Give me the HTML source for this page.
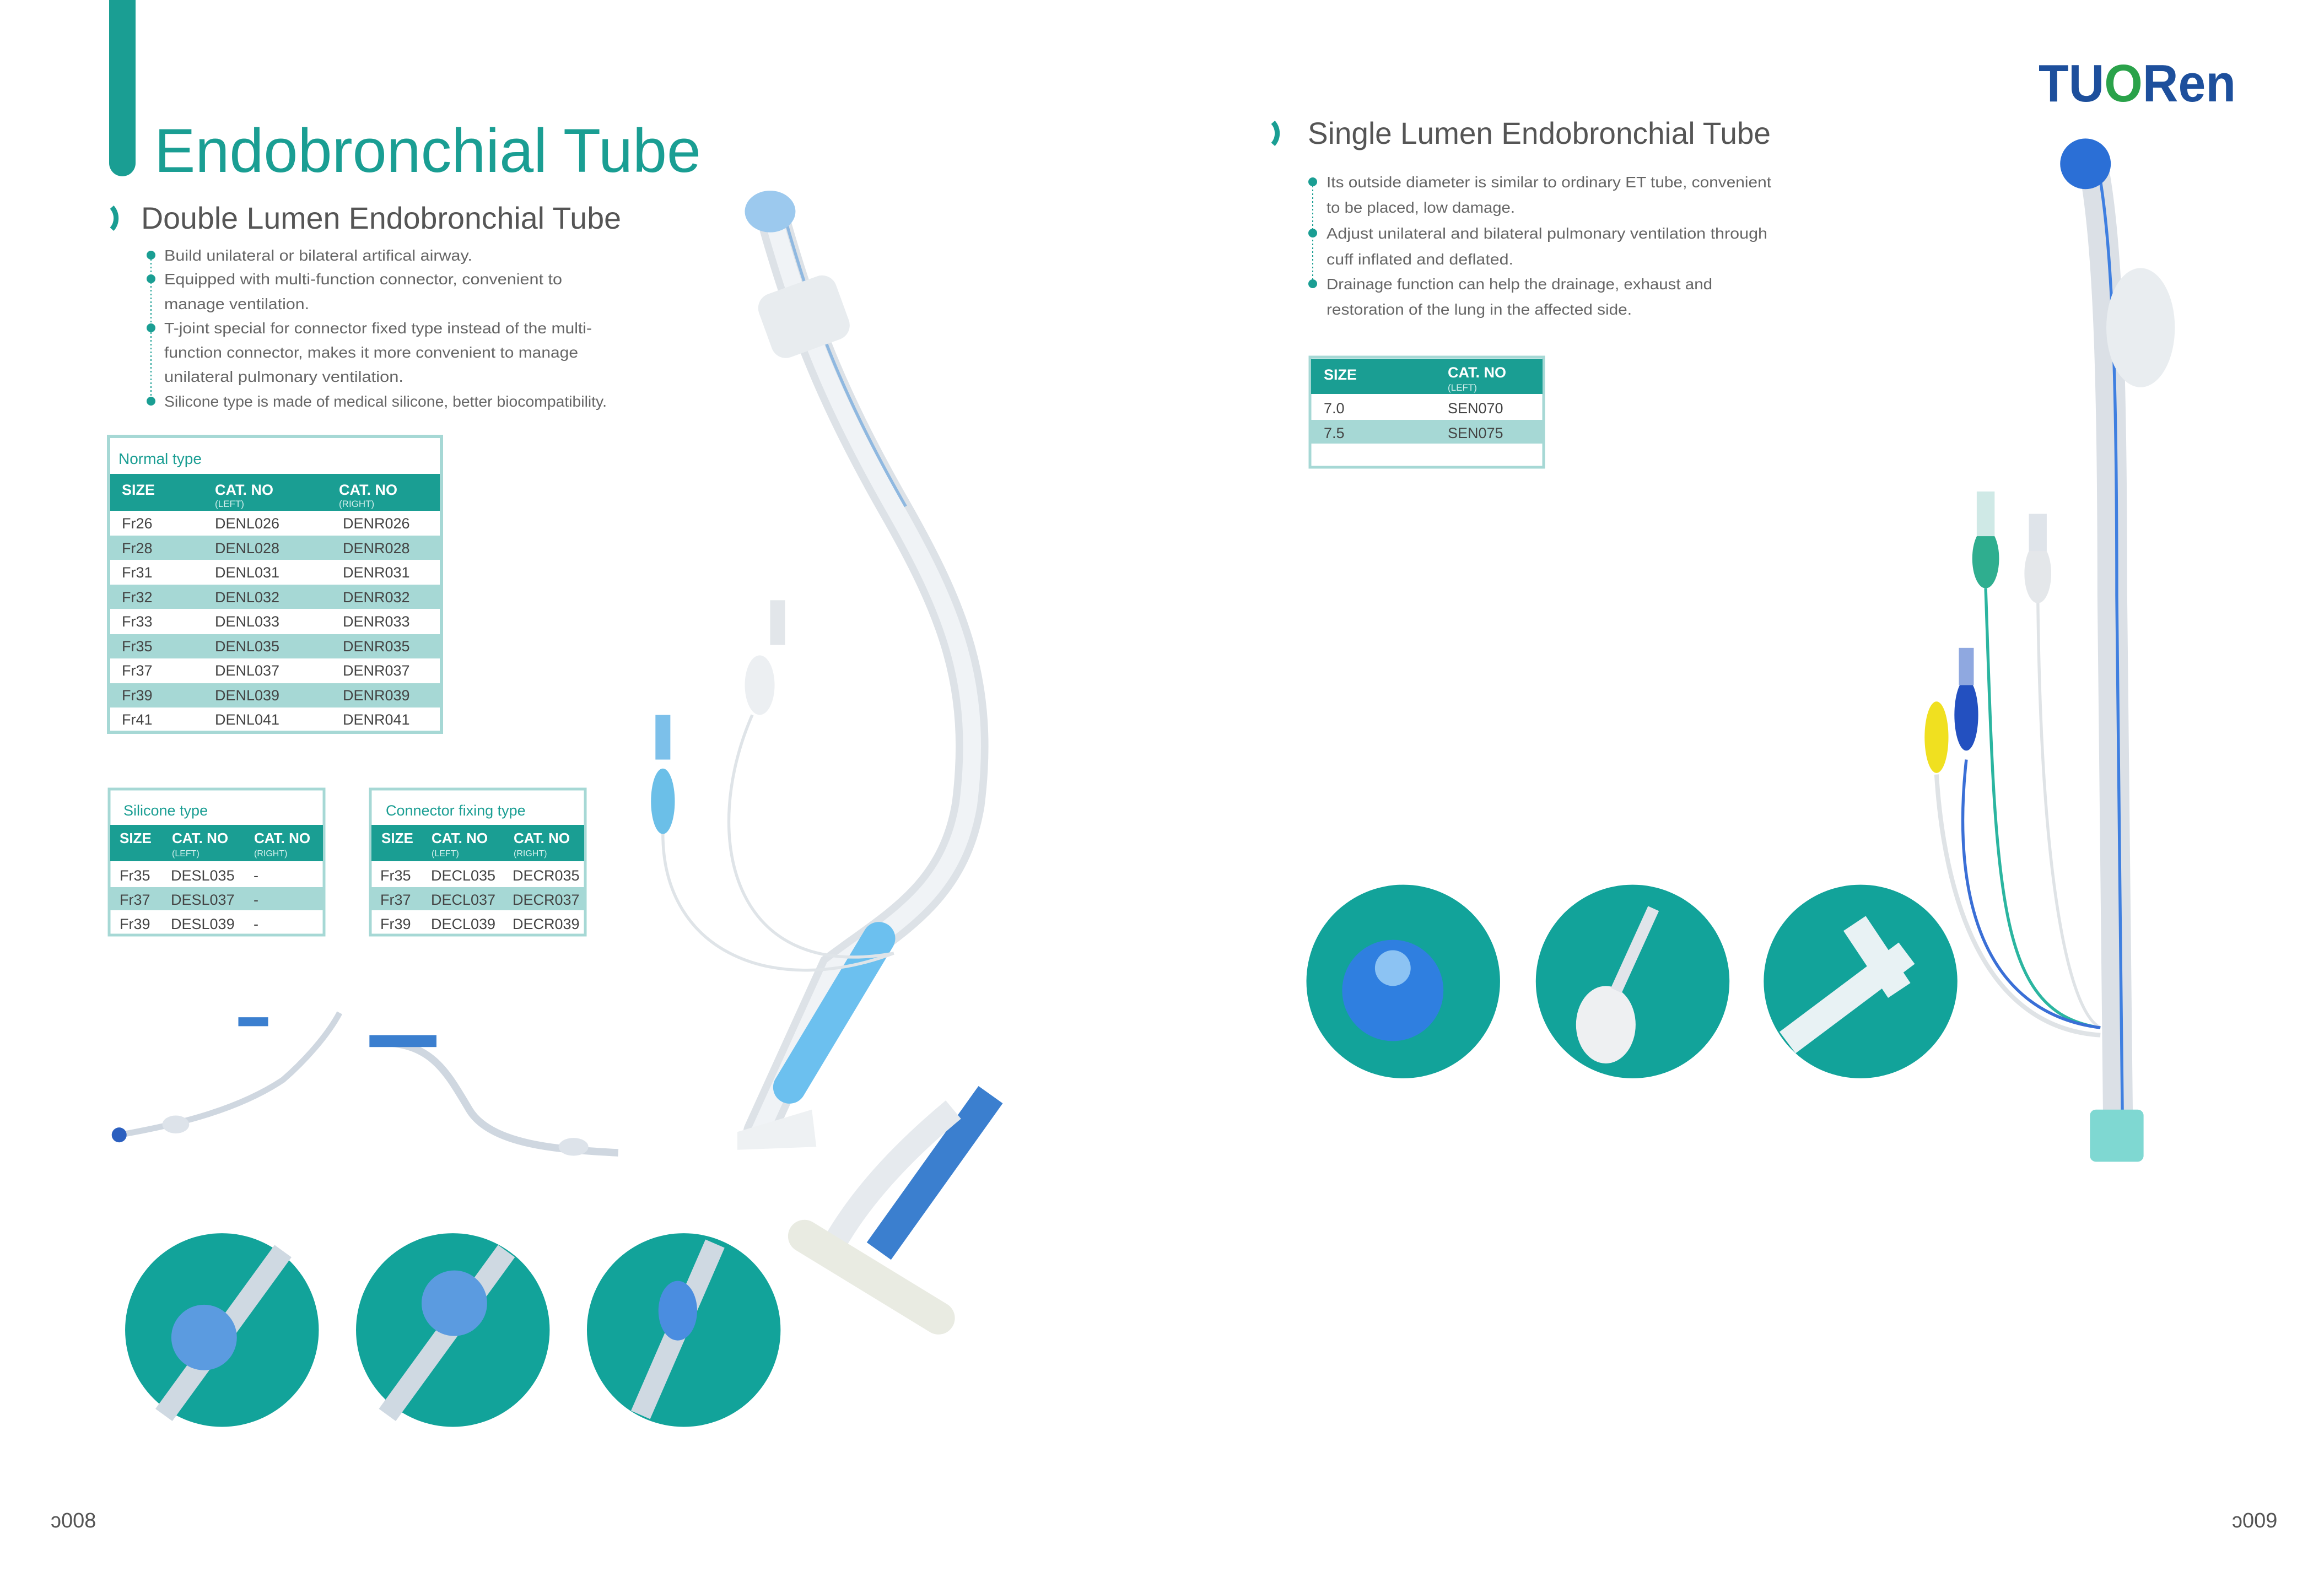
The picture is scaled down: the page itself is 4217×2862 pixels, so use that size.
<!DOCTYPE html>
<html><head><meta charset="utf-8"><style>
html,body{margin:0;padding:0;background:#fff;}
svg{display:block;}
text{font-family:"Liberation Sans",sans-serif;}
</style></head><body>
<svg width="4217" height="2862" viewBox="0 0 4217 2862" xmlns="http://www.w3.org/2000/svg">
<rect width="4217" height="2862" fill="#fff"/>
<rect x="198" y="-30" width="48" height="350" rx="24" fill="#1a9e93"/>
<text x="280" y="312" font-size="112" fill="#1a9e93" textLength="992" lengthAdjust="spacingAndGlyphs">Endobronchial Tube</text>
<path d="M203,376 A30,30 0 0 1 203,416" fill="none" stroke="#1a9e93" stroke-width="9"/>
<text x="256" y="415" font-size="56" fill="#555" textLength="871" lengthAdjust="spacingAndGlyphs">Double Lumen Endobronchial Tube</text>
<line x1="274" y1="463" x2="274" y2="728" stroke="#1a9e93" stroke-width="2" stroke-dasharray="3,4"/>
<g fill="#1a9e93"><circle cx="274" cy="463" r="8"/><circle cx="274" cy="506" r="8"/><circle cx="274" cy="595" r="8"/><circle cx="274" cy="728" r="8"/></g>
<g font-size="28" fill="#666">
<text x="298" y="473" textLength="559" lengthAdjust="spacingAndGlyphs">Build unilateral or bilateral artifical airway.</text>
<text x="298" y="516" textLength="722" lengthAdjust="spacingAndGlyphs">Equipped with multi-function connector, convenient to</text>
<text x="298" y="561" textLength="263" lengthAdjust="spacingAndGlyphs">manage ventilation.</text>
<text x="298" y="605" textLength="776" lengthAdjust="spacingAndGlyphs">T-joint special for connector fixed type instead of the multi-</text>
<text x="298" y="649" textLength="751" lengthAdjust="spacingAndGlyphs">function connector, makes it more convenient to manage</text>
<text x="298" y="693" textLength="434" lengthAdjust="spacingAndGlyphs">unilateral pulmonary ventilation.</text>
<text x="298" y="738" textLength="803" lengthAdjust="spacingAndGlyphs">Silicone type is made of medical silicone, better biocompatibility.</text>
</g>
<rect x="197" y="792" width="604" height="537" fill="#fff" stroke="#a6d8d5" stroke-width="6"/>
<text x="215" y="842" font-size="28" fill="#1a9e93">Normal type</text>
<rect x="200" y="860" width="598" height="67" fill="#1a9e93"/>
<g fill="#fff" font-weight="bold" font-size="27"><text x="221" y="898">SIZE</text><text x="390" y="898">CAT. NO</text><text x="615" y="898">CAT. NO</text></g>
<g fill="#d6f0ee" font-size="17"><text x="390" y="920">(LEFT)</text><text x="615" y="920">(RIGHT)</text></g>
<g fill="#a6d8d5"><rect x="200" y="972" width="598" height="44"/><rect x="200" y="1061" width="598" height="44"/><rect x="200" y="1151" width="598" height="44"/><rect x="200" y="1240" width="598" height="44"/></g>
<g font-size="27" fill="#444">
<text x="221" y="959">Fr26</text><text x="390" y="959">DENL026</text><text x="622" y="959">DENR026</text>
<text x="221" y="1004">Fr28</text><text x="390" y="1004">DENL028</text><text x="622" y="1004">DENR028</text>
<text x="221" y="1048">Fr31</text><text x="390" y="1048">DENL031</text><text x="622" y="1048">DENR031</text>
<text x="221" y="1093">Fr32</text><text x="390" y="1093">DENL032</text><text x="622" y="1093">DENR032</text>
<text x="221" y="1137">Fr33</text><text x="390" y="1137">DENL033</text><text x="622" y="1137">DENR033</text>
<text x="221" y="1182">Fr35</text><text x="390" y="1182">DENL035</text><text x="622" y="1182">DENR035</text>
<text x="221" y="1226">Fr37</text><text x="390" y="1226">DENL037</text><text x="622" y="1226">DENR037</text>
<text x="221" y="1271">Fr39</text><text x="390" y="1271">DENL039</text><text x="622" y="1271">DENR039</text>
<text x="221" y="1315">Fr41</text><text x="390" y="1315">DENL041</text><text x="622" y="1315">DENR041</text>
</g>
<rect x="198" y="1432" width="390" height="265" fill="#fff" stroke="#a6d8d5" stroke-width="5"/>
<text x="224" y="1480" font-size="27" fill="#1a9e93">Silicone type</text>
<rect x="200" y="1497" width="386" height="66" fill="#1a9e93"/>
<g fill="#fff" font-weight="bold" font-size="26"><text x="217" y="1530">SIZE</text><text x="312" y="1530">CAT. NO</text><text x="461" y="1530">CAT. NO</text></g>
<g fill="#d6f0ee" font-size="16"><text x="312" y="1554">(LEFT)</text><text x="461" y="1554">(RIGHT)</text></g>
<rect x="200" y="1610" width="386" height="42" fill="#a6d8d5"/>
<g font-size="27" fill="#444">
<text x="217" y="1598">Fr35</text><text x="310" y="1598">DESL035</text><text x="460" y="1598">-</text>
<text x="217" y="1642">Fr37</text><text x="310" y="1642">DESL037</text><text x="460" y="1642">-</text>
<text x="217" y="1686">Fr39</text><text x="310" y="1686">DESL039</text><text x="460" y="1686">-</text>
</g>
<rect x="672" y="1432" width="390" height="265" fill="#fff" stroke="#a6d8d5" stroke-width="5"/>
<text x="700" y="1480" font-size="27" fill="#1a9e93">Connector fixing type</text>
<rect x="674" y="1497" width="386" height="66" fill="#1a9e93"/>
<g fill="#fff" font-weight="bold" font-size="26"><text x="692" y="1530">SIZE</text><text x="783" y="1530">CAT. NO</text><text x="932" y="1530">CAT. NO</text></g>
<g fill="#d6f0ee" font-size="16"><text x="783" y="1554">(LEFT)</text><text x="932" y="1554">(RIGHT)</text></g>
<rect x="674" y="1610" width="386" height="42" fill="#a6d8d5"/>
<g font-size="27" fill="#444">
<text x="690" y="1598">Fr35</text><text x="782" y="1598">DECL035</text><text x="930" y="1598">DECR035</text>
<text x="690" y="1642">Fr37</text><text x="782" y="1642">DECL037</text><text x="930" y="1642">DECR037</text>
<text x="690" y="1686">Fr39</text><text x="782" y="1686">DECL039</text><text x="930" y="1686">DECR039</text>
</g>
<text x="3699" y="184" font-size="96" font-weight="bold" textLength="358" lengthAdjust="spacingAndGlyphs" fill="#1d4f9c">TU<tspan fill="#2aa24a">O</tspan>Ren</text>
<path d="M2310,222 A30,30 0 0 1 2310,262" fill="none" stroke="#1a9e93" stroke-width="9"/>
<text x="2373" y="261" font-size="56" fill="#555" textLength="840" lengthAdjust="spacingAndGlyphs">Single Lumen Endobronchial Tube</text>
<line x1="2382" y1="330" x2="2382" y2="515" stroke="#1a9e93" stroke-width="2" stroke-dasharray="3,4"/>
<g fill="#1a9e93"><circle cx="2382" cy="330" r="8"/><circle cx="2382" cy="423" r="8"/><circle cx="2382" cy="515" r="8"/></g>
<g font-size="28" fill="#666">
<text x="2407" y="340" textLength="807" lengthAdjust="spacingAndGlyphs">Its outside diameter is similar to ordinary ET tube, convenient</text>
<text x="2407" y="386" textLength="342" lengthAdjust="spacingAndGlyphs">to be placed, low damage.</text>
<text x="2407" y="433" textLength="800" lengthAdjust="spacingAndGlyphs">Adjust unilateral and bilateral pulmonary ventilation through</text>
<text x="2407" y="480" textLength="339" lengthAdjust="spacingAndGlyphs">cuff inflated and deflated.</text>
<text x="2407" y="525" textLength="700" lengthAdjust="spacingAndGlyphs">Drainage function can help the drainage, exhaust and</text>
<text x="2407" y="571" textLength="554" lengthAdjust="spacingAndGlyphs">restoration of the lung in the affected side.</text>
</g>
<rect x="2377" y="648" width="424" height="200" fill="#fff" stroke="#a6d8d5" stroke-width="5"/>
<rect x="2379" y="651" width="420" height="64" fill="#1a9e93"/>
<g fill="#fff" font-weight="bold" font-size="27"><text x="2402" y="689">SIZE</text><text x="2627" y="685">CAT. NO</text></g>
<text x="2627" y="709" font-size="17" fill="#d6f0ee">(LEFT)</text>
<rect x="2379" y="762" width="420" height="43" fill="#a6d8d5"/>
<g font-size="27" fill="#444"><text x="2402" y="750">7.0</text><text x="2627" y="750">SEN070</text><text x="2402" y="795">7.5</text><text x="2627" y="795">SEN075</text></g>
<text x="92" y="2772" font-size="38" fill="#555">ↄ008</text>
<text x="4050" y="2772" font-size="38" fill="#555">ↄ009</text>

<g transform="scale(2.703)">
<path d="M520,150 C540,220 560,270 600,340 C640,410 660,460 650,540 C640,600 600,620 560,650 L510,760" fill="none" stroke="#dde2e7" stroke-width="22" stroke-linecap="round"/>
<path d="M520,150 C540,220 560,270 600,340 C640,410 660,460 650,540 C640,600 600,620 560,650 L510,760" fill="none" stroke="#f0f3f6" stroke-width="12"/>
<path d="M528,150 C548,220 568,270 608,340" fill="none" stroke="#8fb8e0" stroke-width="2"/>
<ellipse cx="517" cy="142" rx="17" ry="14" fill="#9cc9ee"/>
<rect x="512" y="190" width="55" height="45" rx="10" fill="#e8ecef" transform="rotate(-20 540 212)"/>
<path d="M590,630 L530,730" stroke="#6cc0ef" stroke-width="22" stroke-linecap="round"/>
<path d="M495,760 L545,745 L548,770 L495,772Z" fill="#eef1f3"/>
<ellipse cx="445" cy="538" rx="8" ry="22" fill="#6bbfe8"/>
<rect x="440" y="480" width="10" height="30" fill="#7cc0ea"/>
<path d="M445,560 C445,640 520,670 600,640" fill="none" stroke="#dfe4e8" stroke-width="2"/>
<rect x="517" y="403" width="10" height="30" fill="#e2e6ea"/>
<ellipse cx="510" cy="460" rx="10" ry="20" fill="#eceff2"/>
<path d="M505,480 C470,560 490,660 600,640" fill="none" stroke="#dfe4e8" stroke-width="2"/>
<path d="M590,840 L665,735" stroke="#3b7fcf" stroke-width="20"/>
<path d="M560,835 C580,800 610,770 640,745" stroke="#e6eaee" stroke-width="16" fill="none"/>
<path d="M540,830 L630,885" stroke="#e9ebe2" stroke-width="22" stroke-linecap="round"/>
<path d="M80,762 C120,755 160,745 190,725 C205,712 220,695 228,680" fill="none" stroke="#cfd7e0" stroke-width="4"/>
<circle cx="80" cy="762" r="5" fill="#2b5fbf"/><rect x="160" y="683" width="20" height="6" fill="#3b7fcf"/>
<ellipse cx="118" cy="755" rx="9" ry="6" fill="#dde3ea"/>
<path d="M255,700 C290,700 300,720 315,745 C330,770 380,772 415,774" fill="none" stroke="#cfd7e0" stroke-width="5"/>
<rect x="248" y="695" width="45" height="8" fill="#3b7fcf"/>
<ellipse cx="385" cy="770" rx="10" ry="6" fill="#dde3ea"/>
<circle cx="149" cy="893" r="65" fill="#12a39a"/>
<circle cx="304" cy="893" r="65" fill="#12a39a"/>
<circle cx="459" cy="893" r="65" fill="#12a39a"/>
<path d="M110,950 L190,840" stroke="#cfd9e2" stroke-width="14"/><circle cx="137" cy="898" r="22" fill="#5b9be0"/>
<path d="M260,950 L340,840" stroke="#cfd9e2" stroke-width="14"/><circle cx="305" cy="875" r="22" fill="#5b9be0"/>
<path d="M430,950 L480,835" stroke="#cfd9e2" stroke-width="14"/><ellipse cx="455" cy="880" rx="13" ry="20" fill="#4a8de0"/>
<path d="M1405,110 C1415,160 1418,250 1418,400 L1422,770" fill="none" stroke="#dbe0e6" stroke-width="20"/>
<path d="M1408,110 C1418,160 1421,250 1421,400 L1425,770" fill="none" stroke="#3f7fe0" stroke-width="2"/>
<circle cx="1400" cy="110" r="17" fill="#2b6fd6"/>
<ellipse cx="1437" cy="220" rx="23" ry="40" fill="#e9edf0"/>
<rect x="1403" y="745" width="36" height="35" rx="4" fill="#7fd8d2"/>
<path d="M1333,395 C1340,600 1340,680 1410,690" fill="none" stroke="#2bb5a0" stroke-width="2"/>
<path d="M1368,400 C1370,600 1390,680 1410,690" fill="none" stroke="#dfe3e6" stroke-width="2"/>
<path d="M1320,510 C1310,600 1330,680 1410,690" fill="none" stroke="#3a6fd6" stroke-width="2"/>
<path d="M1300,520 C1305,600 1330,690 1410,695" fill="none" stroke="#dfe3e6" stroke-width="3"/>
<ellipse cx="1333" cy="375" rx="9" ry="20" fill="#2fae8f"/><rect x="1327" y="330" width="12" height="30" fill="#cfe9e6"/>
<ellipse cx="1368" cy="385" rx="9" ry="20" fill="#e4e7ea"/><rect x="1362" y="345" width="12" height="25" fill="#dfe4ea"/>
<ellipse cx="1300" cy="495" rx="8" ry="24" fill="#f0e020"/>
<ellipse cx="1320" cy="480" rx="8" ry="24" fill="#2350c0"/><rect x="1315" y="435" width="10" height="25" fill="#8fa8e0"/>
<circle cx="942" cy="659" r="65" fill="#12a39a"/>
<circle cx="1096" cy="659" r="65" fill="#12a39a"/>
<circle cx="1249" cy="659" r="65" fill="#12a39a"/>
<circle cx="935" cy="665" r="34" fill="#2f7fe0"/><circle cx="935" cy="650" r="12" fill="#8cc3f3"/>
<ellipse cx="1078" cy="688" rx="20" ry="26" fill="#eef0f2"/><path d="M1085,665 L1110,610" stroke="#e0e4ea" stroke-width="8"/>
<path d="M1200,700 L1280,640 M1245,620 L1275,665" stroke="#e8f2f4" stroke-width="18" fill="none"/>
</g>
</svg>
</body></html>
